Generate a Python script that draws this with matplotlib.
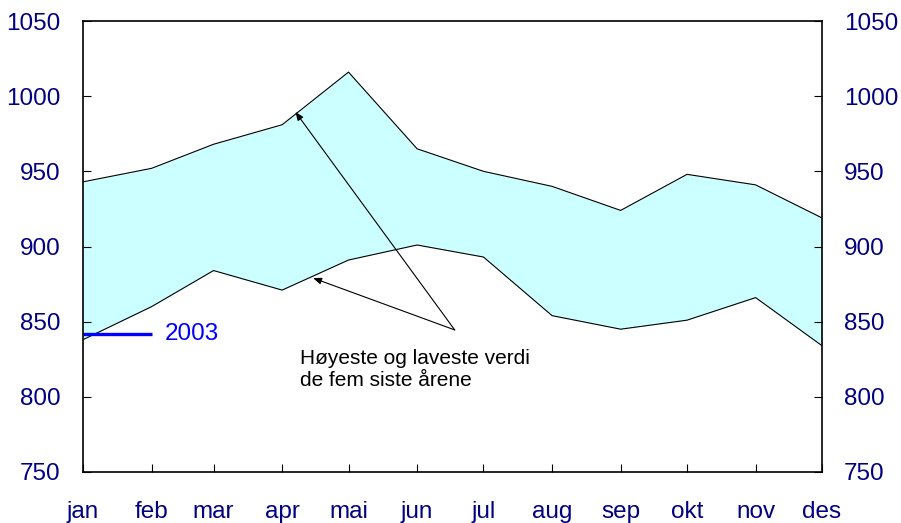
import matplotlib
matplotlib.use("Agg")
import matplotlib.pyplot as plt
import matplotlib.dates as mdates
import pandas as pd

# data: month starts, high / low of the last five years, 2003 so far
months = ["jan", "feb", "mar", "apr", "mai", "jun",
          "jul", "aug", "sep", "okt", "nov", "des"]
dates = pd.date_range("2003-01-01", periods=12, freq="MS")
high = [943, 952, 968, 981, 1016, 965, 950, 940, 924, 948, 941, 919]
low = [838, 860, 884, 871, 891, 901, 893, 854, 845, 851, 866, 834]
y2003 = [842, 842]
yticks = [750, 800, 850, 900, 950, 1000, 1050]

navy = "#000080"
plt.rcParams["font.family"] = ["Liberation Sans", "DejaVu Sans"]

fig = plt.figure(figsize=(9.01, 5.23), dpi=100)
ax = fig.add_axes([83 / 901, 51 / 523, 739 / 901, 451 / 523])

ax.fill_between(dates, low, high, color="#CCFFFF", linewidth=0)
ax.plot(dates, high, color="black", linewidth=0.8)
ax.plot(dates, low, color="black", linewidth=0.8)
ax.plot(dates[:2], y2003, color="#0000FF", linewidth=2.4, solid_capstyle="butt")

ax.set_xlim(dates[0], dates[-1])
ax.set_ylim(750, 1050)
ax.set_yticks(yticks)
ax.set_xticks(dates)
ax.set_xticklabels(months)

ax.tick_params(axis="both", direction="in", length=6, width=0.8,
               labelsize=17.5, labelcolor=navy)
ax.tick_params(axis="y", pad=16, right=True, labelright=True)
ax.tick_params(axis="x", pad=21)
for s in ax.spines.values():
    s.set_linewidth(1.2)

ax.text(pd.Timestamp("2003-02-07"), 842, "2003", color="#0000FF",
        fontsize=17.5, va="center", ha="left")

ax.text(pd.Timestamp("2003-04-09"), 832,
        "Høyeste og laveste verdi\nde fem siste årene",
        fontsize=15, va="top", ha="left", linespacing=1.2)

tail = (mdates.date2num(pd.Timestamp("2003-06-18")), 844.5)
for hx, hy in [("2003-04-07", 989.5), ("2003-04-15", 879)]:
    ax.annotate("", xy=(mdates.date2num(pd.Timestamp(hx)), hy), xytext=tail,
                arrowprops=dict(arrowstyle="-|>,head_length=0.5,head_width=0.2",
                                color="black", linewidth=0.8,
                                shrinkA=0, shrinkB=0))

fig.savefig("out.png", dpi=100)
